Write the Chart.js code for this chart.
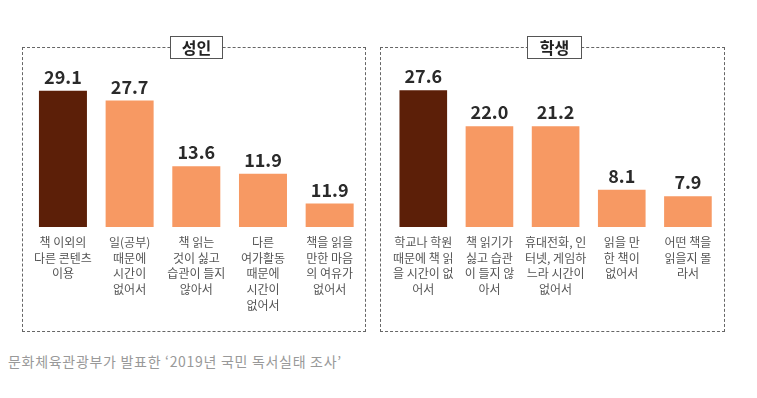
<html>
<head>
  <meta charset="utf-8">
  <script src="https://cdn.jsdelivr.net/npm/chart.js"></script>
  <style>
    body { margin: 0; background: #fff; width: 757px; height: 398px; position: relative; font-family: "Noto Sans CJK KR", "Noto Sans", sans-serif; }
    .panel { position: absolute; top: 47px; height: 285px; border: 1px dashed #666; box-sizing: border-box; }
    .title { position: absolute; top: 36px; height: 23px; background: #fff; border: 1px solid #555; box-sizing: border-box;
             font-weight: bold; font-size: 16px; color: #222; text-align: center; line-height: 20px; }
    .wrap { position: absolute; top: 47px; height: 285px; }
    #source { position: absolute; left: 8px; top: 351px; font-size: 14px; color: #999; letter-spacing: 0.7px; }
  </style>
  <script>
    // 성인 (adults)
    const adultCats = [
      ['책 이외의', '다른 콘텐츠', '이용'],
      ['일(공부)', '때문에', '시간이', '없어서'],
      ['책 읽는', '것이 싫고', '습관이 들지', '않아서'],
      ['다른', '여가활동', '때문에', '시간이', '없어서'],
      ['책을 읽을', '만한 마음', '의 여유가', '없어서']
    ];
    // bar heights as drawn (the printed numbers don't always match them)
    const adultValues = [29.1, 27.0, 13.0, 11.4, 5.0];
    const adultLabels = ['29.1', '27.7', '13.6', '11.9', '11.9'];

    // 학생 (students)
    const studentCats = [
      ['학교나 학원', '때문에 책 읽', '을 시간이 없', '어서'],
      ['책 읽기가', '싫고 습관', '이 들지 않', '아서'],
      ['휴대전화, 인', '터넷, 게임하', '느라 시간이', '없어서'],
      ['읽을 만', '한 책이', '없어서'],
      ['어떤 책을', '읽을지 몰', '라서']
    ];
    const studentValues = [27.6, 20.3, 20.3, 7.5, 6.2];
    const studentLabels = ['27.6', '22.0', '21.2', '8.1', '7.9'];

    const dark = '#5c1f08';
    const orange = '#f79963';

    const valueLabels = {
      id: 'valueLabels',
      afterDatasetsDraw(chart) {
        const ctx = chart.ctx;
        const texts = chart.options.plugins.valueLabels.texts;
        ctx.save();
        ctx.font = 'bold 18px "Noto Sans CJK KR", "Noto Sans", sans-serif';
        ctx.fillStyle = '#2a2a2a';
        ctx.textAlign = 'center';
        ctx.textBaseline = 'alphabetic';
        chart.getDatasetMeta(0).data.forEach((bar, i) => {
          ctx.fillText(texts[i], bar.x, bar.y - 7);
        });
        ctx.restore();
      }
    };

    function makeChart(id, cats, values, texts, yMax) {
      new Chart(document.getElementById(id), {
        type: 'bar',
        data: {
          labels: cats,
          datasets: [{
            data: values,
            backgroundColor: values.map((v, i) => i === 0 ? dark : orange),
            barPercentage: 0.72,
            categoryPercentage: 1
          }]
        },
        options: {
          responsive: false,
          animation: false,
          layout: { padding: 0 },
          plugins: { legend: { display: false }, tooltip: { enabled: false }, valueLabels: { texts } },
          scales: {
            x: {
              grid: { display: false, drawTicks: false },
              border: { display: false },
              ticks: { color: '#555', padding: 7, maxRotation: 0, autoSkip: false,
                       font: { size: 12, family: '"Noto Sans CJK KR", sans-serif', lineHeight: 1.33 } },
              afterFit: s => { s.height = 105; }
            },
            y: { display: false, min: 0, max: yMax }
          }
        },
        plugins: [valueLabels]
      });
    }

    window.onload = function () {
      makeChart('adult', adultCats, adultValues, adultLabels, 38.45);
      makeChart('student', studentCats, studentValues, studentLabels, 36.3);
    };
  </script>
</head>
<body>
  <div class="panel" style="left:22px; width:344px;"></div>
  <div class="panel" style="left:380px; width:345px;"></div>
  <div class="wrap" style="left:27px;"><canvas id="adult" width="336" height="285"></canvas></div>
  <div class="wrap" style="left:386px;"><canvas id="student" width="335" height="285"></canvas></div>
  <div class="title" style="left:170px; width:53px;">성인</div>
  <div class="title" style="left:527px; width:55px;">학생</div>
  <div id="source">문화체육관광부가 발표한 ‘2019년 국민 독서실태 조사’</div>
</body>
</html>
